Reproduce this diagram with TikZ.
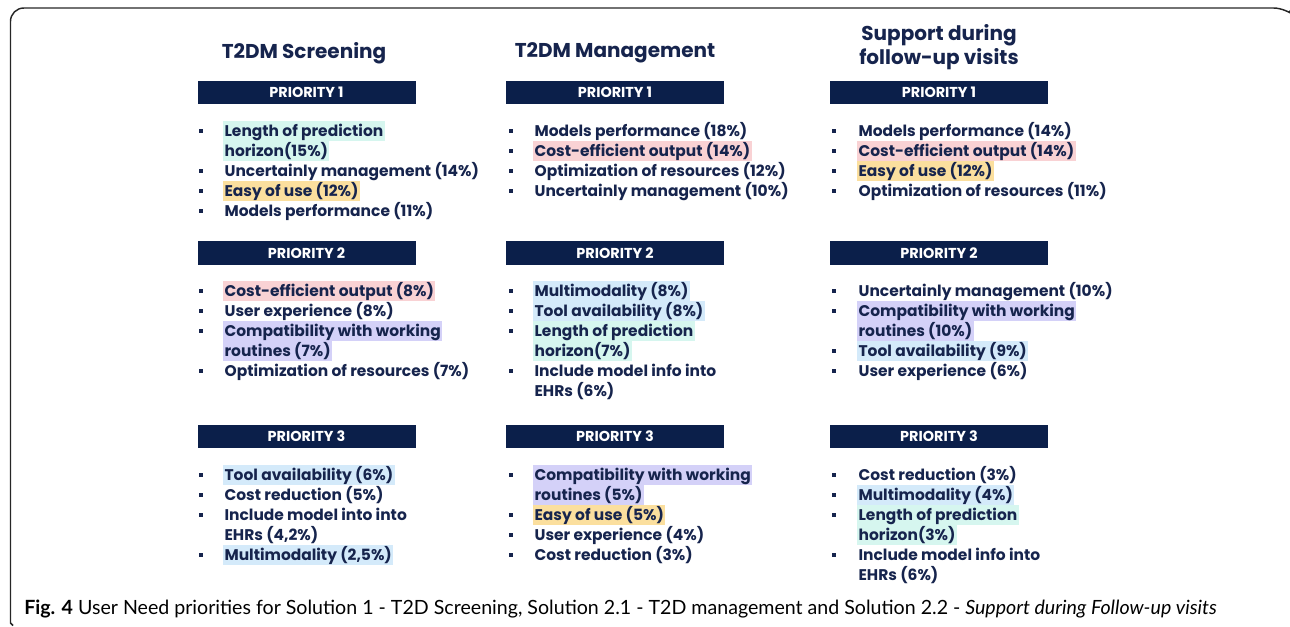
\documentclass[tikz,border=0pt]{standalone}
\usepackage{fontspec}
\setmainfont{Poppins}
\newfontfamily\capfont{Lato}
\usetikzlibrary{positioning}

\definecolor{navy}{HTML}{0B1F4A}
\definecolor{ink}{HTML}{16244D}
\definecolor{hmint}{HTML}{D6F6EF}
\definecolor{hpink}{HTML}{F9D2D4}
\definecolor{hyel}{HTML}{FBDF9E}
\definecolor{hlav}{HTML}{D4D1F8}
\definecolor{hblue}{HTML}{D4EAFA}

\tikzset{
  prio/.style={fill=navy, text=white, font=\bfseries\fontsize{10.8}{12}\selectfont,
    minimum width=163.5pt, minimum height=17.5pt, inner sep=0pt},
  head/.style={text=ink, font=\bfseries\fontsize{15}{18}\selectfont, align=center},
  item/.style={anchor=west, text=ink, font=\bfseries\fontsize{11.6}{13}\selectfont,
    inner xsep=1pt, inner ysep=0pt, text height=9.4pt, text depth=1.6pt, minimum height=15pt},
  blt/.style={fill=ink, minimum size=3.7pt, inner sep=0pt},
  frm/.style={draw=black!85, line width=1.1pt},
}

\begin{document}
\begin{tikzpicture}[x=0.75pt, y=-0.75pt]
 \useasboundingbox (0,0) rectangle (1290,626);

 % frame
 \draw[frm] (13,625.5) -- (10.5,623) [rounded corners=10pt] -- (10.5,8) -- (1287,8) [sharp corners] -- (1289.5,10.5);

 % column heads
 \node[head] (hscr) at (304,53) {T2DM Screening};
 \node[head] (hman) at (615,53) {T2DM Management};
 \node[head] (hsup) at (939,47) {Support during\\follow-up visits};

 % priority bars
 \foreach \col/\x in {scr/306.5, man/615, sup/939} {
   \node[prio] (\col-p1) at (\x,92.5) {PRIORITY 1};
   \node[prio] (\col-p2) at (\x,253) {PRIORITY 2};
   \node[prio] (\col-p3) at (\x,436.5) {PRIORITY 3};
 }

 %T2DM screening
 \def\dx{223}
 \def\dy{131}
 \foreach \k/\txt/\hl/\b in {0/Length of prediction/hmint/1, 1/horizon(15\%)/hmint/0,
     2/Uncertainly management (14\%)/none/1, 3/Easy of use (12\%)/hyel/1,
     4/Models performance (11\%)/none/1} {
   \node[item, fill=\hl] (scr1-\k) at (\dx, \dy+\k*20) {\txt};
   \ifnum\b=1 \node[blt] (scr1b-\k) at (\dx-22, \dy+\k*20) {}; \fi
 }
 \def\dy{291}
 \foreach \k/\txt/\hl/\b in {0/Cost-efficient output (8\%)/hpink/1, 1/User experience (8\%)/none/1,
     2/Compatibility with working/hlav/1, 3/routines (7\%)/hlav/0,
     4/Optimization of resources (7\%)/none/1} {
   \node[item, fill=\hl] (scr2-\k) at (\dx, \dy+\k*20) {\txt};
   \ifnum\b=1 \node[blt] (scr2b-\k) at (\dx-22, \dy+\k*20) {}; \fi
 }
 \def\dy{475}
 \foreach \k/\txt/\hl/\b in {0/Tool availability (6\%)/hblue/1, 1/Cost reduction (5\%)/none/1,
     2/Include model into into/none/1, 3/{EHRs (4,2\%)}/none/0,
     4/{Multimodality (2,5\%)}/hblue/1} {
   \node[item, fill=\hl] (scr3-\k) at (\dx, \dy+\k*20) {\txt};
   \ifnum\b=1 \node[blt] (scr3b-\k) at (\dx-22, \dy+\k*20) {}; \fi
 }

 %T2DM management
 \def\dx{533}
 \def\dy{131}
 \foreach \k/\txt/\hl/\b in {0/Models performance (18\%)/none/1, 1/Cost-efficient output (14\%)/hpink/1,
     2/Optimization of resources (12\%)/none/1, 3/Uncertainly management (10\%)/none/1} {
   \node[item, fill=\hl] (man1-\k) at (\dx, \dy+\k*20) {\txt};
   \ifnum\b=1 \node[blt] (man1b-\k) at (\dx-22, \dy+\k*20) {}; \fi
 }
 \def\dy{291}
 \foreach \k/\txt/\hl/\b in {0/Multimodality (8\%)/hblue/1, 1/Tool availability (8\%)/hblue/1,
     2/Length of prediction/hmint/1, 3/horizon(7\%)/hmint/0,
     4/Include model info into/none/1, 5/EHRs (6\%)/none/0} {
   \node[item, fill=\hl] (man2-\k) at (\dx, \dy+\k*20) {\txt};
   \ifnum\b=1 \node[blt] (man2b-\k) at (\dx-22, \dy+\k*20) {}; \fi
 }
 \def\dy{475}
 \foreach \k/\txt/\hl/\b in {0/Compatibility with working/hlav/1, 1/routines (5\%)/hlav/0,
     2/Easy of use (5\%)/hyel/1, 3/User experience (4\%)/none/1,
     4/Cost reduction (3\%)/none/1} {
   \node[item, fill=\hl] (man3-\k) at (\dx, \dy+\k*20) {\txt};
   \ifnum\b=1 \node[blt] (man3b-\k) at (\dx-22, \dy+\k*20) {}; \fi
 }

 %follow-up support
 \def\dx{857}
 \def\dy{131}
 \foreach \k/\txt/\hl/\b in {0/Models performance (14\%)/none/1, 1/Cost-efficient output (14\%)/hpink/1,
     2/Easy of use (12\%)/hyel/1, 3/Optimization of resources (11\%)/none/1} {
   \node[item, fill=\hl] (sup1-\k) at (\dx, \dy+\k*20) {\txt};
   \ifnum\b=1 \node[blt] (sup1b-\k) at (\dx-23, \dy+\k*20) {}; \fi
 }
 \def\dy{291}
 \foreach \k/\txt/\hl/\b in {0/Uncertainly management (10\%)/none/1, 1/Compatibility with working/hlav/1,
     2/routines (10\%)/hlav/0, 3/Tool availability (9\%)/hblue/1,
     4/User experience (6\%)/none/1} {
   \node[item, fill=\hl] (sup2-\k) at (\dx, \dy+\k*20) {\txt};
   \ifnum\b=1 \node[blt] (sup2b-\k) at (\dx-23, \dy+\k*20) {}; \fi
 }
 \def\dy{475}
 \foreach \k/\txt/\hl/\b in {0/Cost reduction (3\%)/none/1, 1/Multimodality (4\%)/hblue/1,
     2/Length of prediction/hmint/1, 3/horizon(3\%)/hmint/0,
     4/Include model info into/none/1, 5/EHRs (6\%)/none/0} {
   \node[item, fill=\hl] (sup3-\k) at (\dx, \dy+\k*20) {\txt};
   \ifnum\b=1 \node[blt] (sup3b-\k) at (\dx-23, \dy+\k*20) {}; \fi
 }

 % caption
 \node[anchor=west, inner sep=0pt, font=\capfont\fontsize{14.7}{17}\selectfont] (cap) at (24,609)
   {\textbf{Fig. 4} User Need priorities for Solution 1 - T2D Screening, Solution 2.1 - T2D management and Solution 2.2 - \textit{Support during Follow-up visits}};

\end{tikzpicture}
\end{document}
